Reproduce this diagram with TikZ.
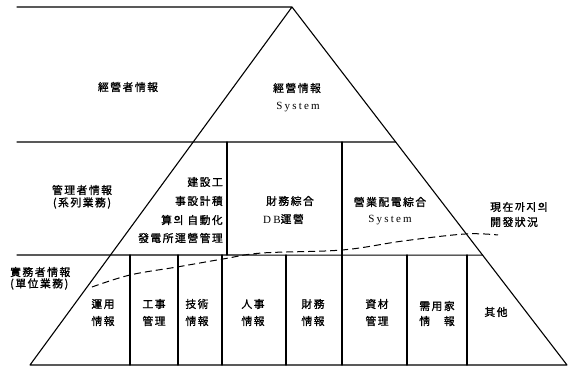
\documentclass[tikz,border=0pt]{standalone}
\usepackage{fontspec}
\usetikzlibrary{calc}
\newfontfamily\cjk[LetterSpace=14,FakeBold=1.2]{Noto Sans CJK KR}
\newfontfamily\lat[LetterSpace=20]{Liberation Serif}
\tikzset{
  frame/.style={line width=1.1pt, line cap=round, line join=round},
  lbl/.style={inner sep=0pt, font=\cjk\fontsize{10.8}{12}\selectfont},
  latl/.style={inner sep=0pt, font=\lat\fontsize{11}{12}\selectfont},
  devline/.style={line width=1pt, dash pattern=on 7pt off 4pt}
}
\begin{document}
\begin{tikzpicture}[x=1pt,y=-1pt]
\useasboundingbox (0,0) rectangle (571,367);
% main triangle
\coordinate (A) at (292,7);
\coordinate (BL) at (30,365);
\coordinate (BR) at (567,365);
\coordinate (T0) at (17,7);
\coordinate (M0) at (17,142);
\coordinate (M1) at ($(A)!0.377!(BR)$);
\coordinate (L0) at (17,255);
\coordinate (L1) at ($(A)!0.693!(BR)$);
\draw[frame] (T0) -- (A) -- (BR) -- (BL) -- (A);
\draw[frame] (M0) -- (M1);
\draw[frame] (L0) -- (L1);
% middle band verticals
\draw[frame] (227,142) -- (227,255);
\draw[frame] (342,142) -- (342,365);
% bottom band verticals
\foreach \x in {130,178,222,286,407,467}{
  \draw[frame] (\x,255) -- (\x,365);
}
% development status curve
\draw[devline] plot[smooth, tension=0.6] coordinates {(92,287) (130,275) (177,267) (223,259) (262,253) (342,250) (403,241) (465,234) (498,235)};
% top band
\node[lbl] (t1) at (128,87) {經營者情報};
\node[lbl] (t2) at (297,88) {經營情報};
\node[latl] (t3) at (298,107) {System};
% middle band
\node[lbl] (m1) at (82,190) {管理者情報};
\node[lbl] (m2) at (82,203) {(系列業務)};
\node[lbl, anchor=east] (m3) at (223,182) {建設工};
\node[lbl, anchor=east] (m4) at (223,201) {事設計積};
\node[lbl, anchor=east] (m5) at (223,220) {算의 自動化};
\node[lbl, anchor=east] (m6) at (223,238) {發電所運營管理};
\node[lbl] (m7) at (290,201) {財務綜合};
\node[anchor=west, inner sep=0pt] (m8) at (263,219) {{\lat\fontsize{11}{12}\selectfont DB}{\cjk\fontsize{10.8}{12}\selectfont 運營}};
\node[lbl] (m9) at (390,202) {營業配電綜合};
\node[latl] (m10) at (390,220) {System};
\node[lbl, anchor=west] (s1) at (490,207) {現在까지의};
\node[lbl, anchor=west] (s2) at (490,222) {開發狀況};
% bottom band
\node[lbl, anchor=west] (b1) at (10,272) {實務者情報};
\node[lbl, anchor=west] (b2) at (10,284) {(單位業務)};
\node[lbl] (c1a) at (103,304) {運用};
\node[lbl] (c1b) at (103,321) {情報};
\node[lbl] (c2a) at (154,304) {工事};
\node[lbl] (c2b) at (154,321) {管理};
\node[lbl] (c3a) at (197,304) {技術};
\node[lbl] (c3b) at (197,321) {情報};
\node[lbl] (c4a) at (253,304) {人事};
\node[lbl] (c4b) at (253,321) {情報};
\node[lbl] (c5a) at (313,304) {財務};
\node[lbl] (c5b) at (313,321) {情報};
\node[lbl] (c6a) at (377,304) {資材};
\node[lbl] (c6b) at (377,321) {管理};
\node[lbl] (c7a) at (437,306) {需用家};
\node[lbl] (c7b) at (437,321) {情　報};
\node[lbl] (c8) at (496,312) {其他};
\end{tikzpicture}
\end{document}
